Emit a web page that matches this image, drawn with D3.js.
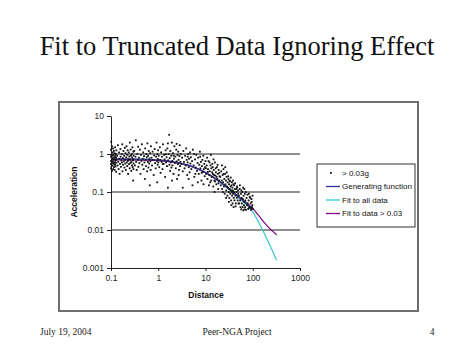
<!DOCTYPE html>
<html><head><meta charset="utf-8">
<script src="https://cdn.jsdelivr.net/npm/d3@7"></script>
<style>html,body{margin:0;padding:0;background:#fff;}svg{display:block;}</style>
</head><body>
<script>
// ---- data ----
const titleText = "Fit to Truncated Data Ignoring Effect";
const xTicks = [0.1, 1, 10, 100, 1000];
const yTicks = [0.001, 0.01, 0.1, 1, 10];
const gridValues = [0.01, 0.1, 1];
const legendLabels = ["> 0.03g", "Generating function", "Fit to all data", "Fit to data > 0.03"];
const footerLeft = "July 19, 2004", footerCenter = "Peer-NGA Project", footerRight = "4";

const lineDist = [0.1, 0.2, 0.5, 1, 2, 5, 10, 20, 50, 100, 150, 200, 320];
const generating = [0.75, 0.75, 0.73, 0.70, 0.63, 0.48, 0.33, 0.19, 0.075, 0.035];
const fitAll = [0.72, 0.72, 0.71, 0.68, 0.62, 0.47, 0.32, 0.18, 0.07, 0.03, 0.012, 0.0058, 0.0016];
const fitTrunc = [0.70, 0.70, 0.69, 0.67, 0.61, 0.47, 0.32, 0.185, 0.075, 0.037, 0.02, 0.013, 0.0075];

const points = [
[0.10,0.55],[0.10,0.85],[0.10,1.3],[0.10,0.42],[0.10,0.65],[0.101,2.1],[0.102,0.95],[0.103,0.48],[0.104,0.72],[0.105,1.6],[0.105,0.36],[0.106,0.58],[0.107,0.9],[0.108,1.1],[0.108,0.5],[0.109,0.78],[0.11,0.62],[0.11,1.4],[0.111,0.4],[0.112,0.7],[0.113,0.95],[0.114,0.55],[0.115,1.2],[0.116,0.45],[0.117,0.82],[0.118,0.6],[0.119,1.05],[0.12,0.38],[0.12,0.74],[0.121,0.52],[0.122,1.5],[0.123,0.88],[0.124,0.66],[0.125,0.47],[0.126,1.0],[0.127,0.58],[0.128,0.8],[0.129,0.34],[0.13,0.7],[0.13,1.25],
[0.135,0.9],[0.138,0.5],[0.14,1.7],[0.142,0.62],[0.145,0.4],[0.148,1.1],[0.15,0.75],[0.152,0.3],[0.155,0.55],[0.158,1.35],[0.16,0.85],[0.163,0.46],[0.165,0.68],[0.168,1.0],[0.17,0.6],[0.173,1.8],[0.175,0.35],[0.178,0.78],[0.18,0.52],[0.183,1.2],[0.186,0.64],[0.19,0.9],[0.193,0.44],[0.196,1.45],[0.2,0.7],[0.2,0.56],[0.203,1.05],[0.206,0.38],[0.21,0.82],[0.213,1.6],[0.216,0.6],[0.22,0.48],[0.222,0.95],[0.225,1.25],[0.228,0.66],[0.23,0.3],[0.234,0.74],[0.238,1.1],[0.24,0.54],[0.244,0.86],[0.248,0.42],[0.25,2.0],[0.253,0.7],[0.257,0.58],[0.26,1.3],[0.264,0.9],[0.268,0.36],[0.27,0.62],[0.274,1.0],[0.278,0.5],[0.28,0.8],[0.284,1.5],[0.288,0.45],[0.29,0.68],[0.294,0.2],[0.297,1.15],[0.3,0.56],[0.3,0.9],[0.3,0.72],[0.299,0.4],
[0.31,1.2],[0.32,0.5],[0.33,0.85],[0.335,2.3],[0.34,0.62],[0.35,0.38],[0.36,1.0],[0.37,0.7],[0.375,1.55],[0.38,0.46],[0.39,0.8],[0.4,0.58],[0.41,1.3],[0.42,0.3],[0.43,0.95],[0.44,0.66],[0.45,1.8],[0.46,0.52],[0.47,0.75],[0.48,1.1],[0.49,0.4],[0.5,0.88],[0.51,0.6],[0.52,0.22],[0.53,1.4],[0.54,0.7],[0.55,0.48],[0.56,1.0],[0.57,0.82],[0.58,0.35],[0.59,1.9],[0.6,0.62],[0.61,0.9],[0.62,0.44],[0.63,1.2],[0.64,0.56],[0.65,0.76],[0.66,0.15],[0.67,1.05],[0.68,0.64],[0.69,0.38],[0.7,1.6],[0.72,0.8],[0.74,0.5],[0.76,1.15],[0.78,0.7],[0.8,0.28],[0.82,0.92],[0.84,1.35],[0.86,0.58],[0.88,0.42],[0.9,0.85],[0.92,2.0],[0.94,0.66],[0.95,0.18],[0.96,1.0],[0.97,0.52],[0.98,0.74],[0.99,1.25],[1.0,0.6],
[1.02,0.9],[1.05,0.45],[1.08,1.5],[1.1,0.7],[1.12,0.32],[1.15,1.1],[1.18,0.62],[1.2,0.85],[1.23,0.4],[1.26,1.8],[1.3,0.55],[1.33,0.95],[1.36,0.72],[1.4,0.25],[1.43,1.25],[1.46,0.6],[1.5,0.82],[1.53,0.48],[1.56,1.4],[1.6,0.13],[1.63,0.68],[1.66,1.0],[1.7,3.2],[1.72,0.52],[1.75,0.78],[1.78,0.36],[1.8,1.2],[1.84,0.6],[1.88,0.9],[1.9,0.44],[1.94,2.0],[1.98,0.66],[2.0,0.5],[2.05,1.05],[2.1,0.3],[2.15,0.75],[2.2,1.6],[2.25,0.58],[2.3,0.85],[2.35,0.42],[2.4,1.3],[2.45,0.64],[2.5,0.22],[2.55,0.95],[2.6,0.54],[2.65,1.15],[2.7,0.7],[2.75,0.38],[2.8,0.88],[2.85,1.7],[2.9,0.48],[2.95,0.62],[3.0,1.0],[2.12,0.9],[1.45,0.98],[1.25,0.55],[2.45,1.85],[1.95,0.2],[2.7,0.28],[1.6,1.9],
[3.1,0.55],[3.2,0.8],[3.3,0.35],[3.4,1.2],[3.5,0.62],[3.6,0.42],[3.7,0.9],[3.8,0.5],[3.9,1.4],[4.0,0.7],[4.1,0.28],[4.2,0.6],[4.3,1.0],[4.4,0.45],[4.5,0.75],[4.6,0.33],[4.7,1.1],[4.8,0.56],[4.9,0.82],[5.0,0.4],[5.2,0.65],[5.4,1.3],[5.6,0.5],[5.8,0.25],[6.0,0.72],[6.2,0.44],[6.4,0.95],[6.6,0.36],[6.8,0.58],[7.0,0.8],[7.2,0.3],[7.4,0.52],[7.6,1.15],[7.8,0.42],[8.0,0.62],[8.2,0.2],[8.4,0.48],[8.6,0.7],[8.8,0.34],[9.0,0.9],[9.2,0.4],[9.4,0.55],[9.6,0.26],[9.8,0.45],[10.0,0.65],[5.3,0.15],[6.9,0.18],[3.3,0.13],[4.4,0.22],[7.7,0.85],[5.7,1.0],[8.3,0.32],[9.1,0.16],[6.1,0.3],[4.2,0.85],
[10.3,0.3],[10.6,0.5],[11,0.22],[11.3,0.4],[11.6,0.65],[12,0.28],[12.3,0.35],[12.6,0.18],[13,0.95],[13.3,0.42],[13.6,0.25],[14,0.55],[14.3,0.3],[14.6,0.14],[15,0.38],[15.4,0.2],[15.8,0.6],[16.2,0.27],[16.6,0.33],[17,0.16],[17.4,0.45],[17.8,0.22],[18.2,0.3],[18.6,0.12],[19,0.38],[19.4,0.2],[19.8,0.26],[10.8,0.8],[11.8,0.15],[12.8,0.5],[13.8,0.33],[14.8,0.72],[15.6,0.1],[16.4,0.42],[17.2,0.25],[18,0.52],[18.8,0.17],[19.6,0.32],[10.1,0.42],[11.2,0.34],[12.2,0.6],[13.2,0.2],[14.2,0.45],[15.2,0.28],[16,0.19],
[20.5,0.25],[21,0.15],[21.5,0.35],[22,0.2],[22.5,0.12],[23,0.28],[23.5,0.18],[24,0.4],[24.5,0.14],[25,0.22],[25.5,0.09],[26,0.3],[26.5,0.16],[27,0.2],[27.5,0.11],[28,0.25],[28.5,0.14],[29,0.08],[29.5,0.18],[30,0.13],[30.5,0.22],[31,0.1],[31.5,0.16],[32,0.07],[32.5,0.12],[33,0.19],[33.5,0.09],[34,0.14],[34.5,0.11],[35,0.06],[35.5,0.15],[36,0.1],[36.5,0.08],[37,0.13],[37.5,0.05],[38,0.11],[38.5,0.09],[39,0.16],[39.5,0.07],[40,0.1],[41,0.06],[42,0.12],[43,0.08],[44,0.05],[45,0.1],[46,0.07],[47,0.13],[48,0.06],[49,0.09],[50,0.05],[22.2,0.5],[24.2,0.3],[26.2,0.45],[28.2,0.33],[30.2,0.26],[32.2,0.2],[34.2,0.24],[36.2,0.18],[38.2,0.2],[40.5,0.15],[42.5,0.17],[44.5,0.12],[46.5,0.14],[48.5,0.11],[23.3,0.1],[27.3,0.07],[31.3,0.055],[35.3,0.045],[39.3,0.04],[43.3,0.042],
[51,0.08],[52,0.05],[53,0.12],[54,0.06],[55,0.04],[56,0.09],[57,0.035],[58,0.07],[59,0.05],[60,0.1],[61,0.04],[62,0.065],[63,0.033],[64,0.08],[65,0.045],[66,0.055],[67,0.035],[68,0.09],[69,0.04],[70,0.06],[72,0.034],[74,0.07],[76,0.045],[78,0.05],[80,0.036],[82,0.06],[84,0.04],[86,0.075],[88,0.038],[90,0.05],[92,0.034],[94,0.065],[96,0.04],[98,0.045],[100,0.036],[53.5,0.15],[57.5,0.11],[62.5,0.13],[71,0.1],[77,0.085],[83,0.09],[89,0.07],[95,0.055],[99,0.08],[66.5,0.12]
];

// ---- drawing ----
const W = 474, H = 355;
const svg = d3.select("body").append("svg").attr("width", W).attr("height", H);
svg.append("rect").attr("width", W).attr("height", H).attr("fill", "#fff");

svg.append("text").attr("x", 237).attr("y", 55).attr("text-anchor", "middle")
  .attr("font-family", "Liberation Serif, Times New Roman, serif").attr("font-size", 26.5)
  .attr("fill", "#111").text(titleText);

// chart frame
svg.append("rect").attr("x", 59).attr("y", 102).attr("width", 359).attr("height", 209)
  .attr("fill", "#fff").attr("stroke", "#6e6e6e").attr("stroke-width", 2);

const x = d3.scaleLog().domain([0.1, 1000]).range([111, 300]);
const y = d3.scaleLog().domain([0.001, 10]).range([268, 116]);

// gridlines
svg.append("g").selectAll("line").data(gridValues).join("line")
  .attr("x1", x(0.1)).attr("x2", x(1000)).attr("y1", d => y(d)).attr("y2", d => y(d))
  .attr("stroke", "#6a6a6a").attr("stroke-width", 1.5);

const fmt = d => String(d);
const xAxis = svg.append("g").attr("transform", `translate(0,${y(0.001)})`)
  .call(d3.axisBottom(x).tickValues(xTicks).tickFormat(fmt).tickSize(3).tickSizeOuter(0));
const yAxis = svg.append("g").attr("transform", `translate(${x(0.1)},0)`)
  .call(d3.axisLeft(y).tickValues(yTicks).tickFormat(fmt).tickSize(4).tickSizeOuter(0));
[xAxis, yAxis].forEach(g => {
  g.selectAll("path,line").attr("stroke", "#222");
  g.selectAll("text").attr("font-family", "Liberation Sans, Arial, sans-serif")
    .attr("font-size", 8.5).attr("fill", "#222");
});
xAxis.selectAll("text").attr("dy", "0.75em").attr("y", 7);
yAxis.selectAll("text").attr("x", -7);

// lines (under the points)
const line = d3.line().x(d => x(d[0])).y(d => y(d[1])).curve(d3.curveMonotoneX);
const series = [
  {vals: fitAll, color: "#33cccc"},
  {vals: fitTrunc, color: "#800080"},
  {vals: generating, color: "#333399"}
];
series.forEach(s => {
  svg.append("path").datum(s.vals.map((v, i) => [lineDist[i], v]))
    .attr("d", line).attr("fill", "none").attr("stroke", s.color).attr("stroke-width", 1.2);
});

// points
svg.append("g").selectAll("rect").data(points).join("rect")
  .attr("x", d => x(d[0]) - 0.9).attr("y", d => y(d[1]) - 0.9)
  .attr("width", 1.8).attr("height", 1.8).attr("fill", "#111");

// axis titles
svg.append("text").attr("x", 206).attr("y", 298).attr("text-anchor", "middle")
  .attr("font-family", "Liberation Sans, Arial, sans-serif").attr("font-weight", "bold")
  .attr("font-size", 8.5).attr("fill", "#111").text("Distance");
svg.append("text").attr("transform", "translate(77,192) rotate(-90)").attr("text-anchor", "middle")
  .attr("font-family", "Liberation Sans, Arial, sans-serif").attr("font-weight", "bold")
  .attr("font-size", 8.5).attr("fill", "#111").text("Acceleration");

// legend
const lg = svg.append("g");
lg.append("rect").attr("x", 317).attr("y", 164).attr("width", 98).attr("height", 63)
  .attr("fill", "#fff").attr("stroke", "#333").attr("stroke-width", 1);
const legColors = [null, "#333399", "#33cccc", "#800080"];
legendLabels.forEach((lab, i) => {
  const yy = 173 + i * 13.5;
  if (i === 0) {
    lg.append("rect").attr("x", 330).attr("y", yy - 1).attr("width", 1.8).attr("height", 1.8).attr("fill", "#111");
  } else {
    lg.append("line").attr("x1", 326).attr("x2", 340).attr("y1", yy).attr("y2", yy)
      .attr("stroke", legColors[i]).attr("stroke-width", 1.3);
  }
  lg.append("text").attr("x", 342).attr("y", yy).attr("dy", "0.35em")
    .attr("font-family", "Liberation Sans, Arial, sans-serif").attr("font-size", 8)
    .attr("fill", "#111").text(lab);
});

// footer
const ff = "Liberation Serif, Times New Roman, serif";
svg.append("text").attr("x", 40).attr("y", 335).attr("font-family", ff).attr("font-size", 9.5).attr("fill", "#222").text(footerLeft);
svg.append("text").attr("x", 237).attr("y", 335).attr("text-anchor", "middle").attr("font-family", ff).attr("font-size", 9.5).attr("fill", "#222").text(footerCenter);
svg.append("text").attr("x", 432).attr("y", 335).attr("text-anchor", "middle").attr("font-family", ff).attr("font-size", 9.5).attr("fill", "#222").text(footerRight);
</script>
</body></html>
